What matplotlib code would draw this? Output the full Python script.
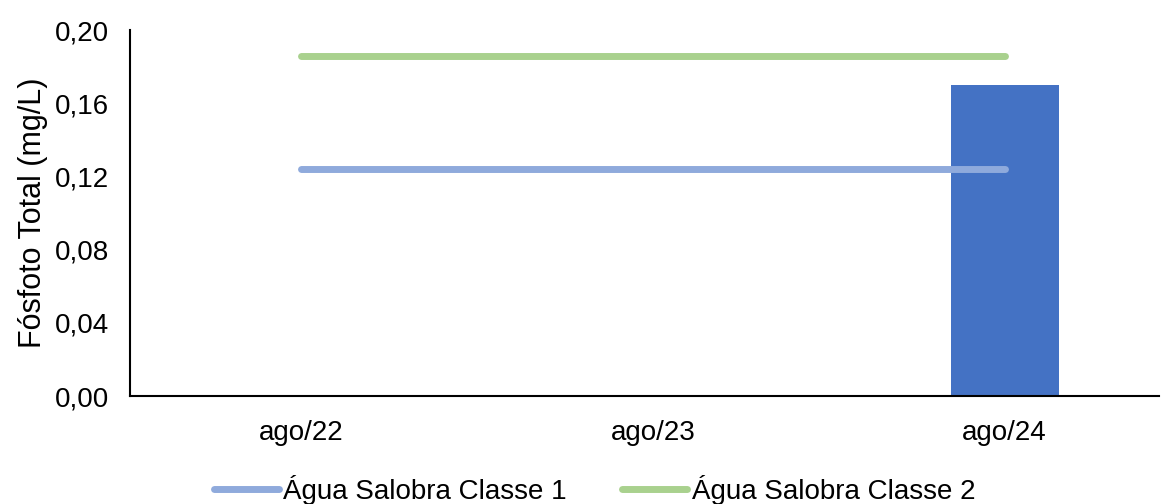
import matplotlib
matplotlib.use("Agg")
import matplotlib.pyplot as plt

categories = ["ago/22", "ago/23", "ago/24"]
fosforo = [None, None, 0.17]
salobra_classe1 = [0.124, 0.124, 0.124]
salobra_classe2 = [0.186, 0.186, 0.186]
yticks = [0.00, 0.04, 0.08, 0.12, 0.16, 0.20]

plt.rcParams["font.family"] = ["Liberation Sans", "DejaVu Sans"]

fig = plt.figure(figsize=(11.7, 5.04), dpi=100)
ax = fig.add_axes([0.111, 0.214, 0.880, 0.726])

x = list(range(len(categories)))
bar_x = [i for i, v in zip(x, fosforo) if v is not None]
bar_v = [v for v in fosforo if v is not None]
ax.bar(bar_x, bar_v, width=0.307, color="#4472C4", zorder=2)

ax.plot(x, salobra_classe1, color="#8FAADC", lw=5, solid_capstyle="round",
        label="Água Salobra Classe 1", zorder=3)
ax.plot(x, salobra_classe2, color="#A9D18E", lw=5, solid_capstyle="round",
        label="Água Salobra Classe 2", zorder=3)

ax.set_xlim(-0.486, 2.44)
ax.set_ylim(0, 0.20)
ax.set_xticks(x)
ax.set_xticklabels(categories)
ax.set_yticks(yticks)
ax.set_yticklabels([f"{v:.2f}".replace(".", ",") for v in yticks])
ax.tick_params(length=0, labelsize=20, colors="#000000")
ax.tick_params(axis="x", pad=17)
ax.tick_params(axis="y", pad=15)
ax.set_ylabel("Fósfoto Total (mg/L)", fontsize=22, labelpad=5)

for s in ["top", "right"]:
    ax.spines[s].set_visible(False)
for s in ["left", "bottom"]:
    ax.spines[s].set_linewidth(1.5)
    ax.spines[s].set_color("#000000")

fig.legend(loc="center", bbox_to_anchor=(0.508, 0.028), ncol=2, frameon=False,
           fontsize=20, handlelength=2.35, handletextpad=0.15, columnspacing=2.0)

fig.savefig("out.png", dpi=100)
